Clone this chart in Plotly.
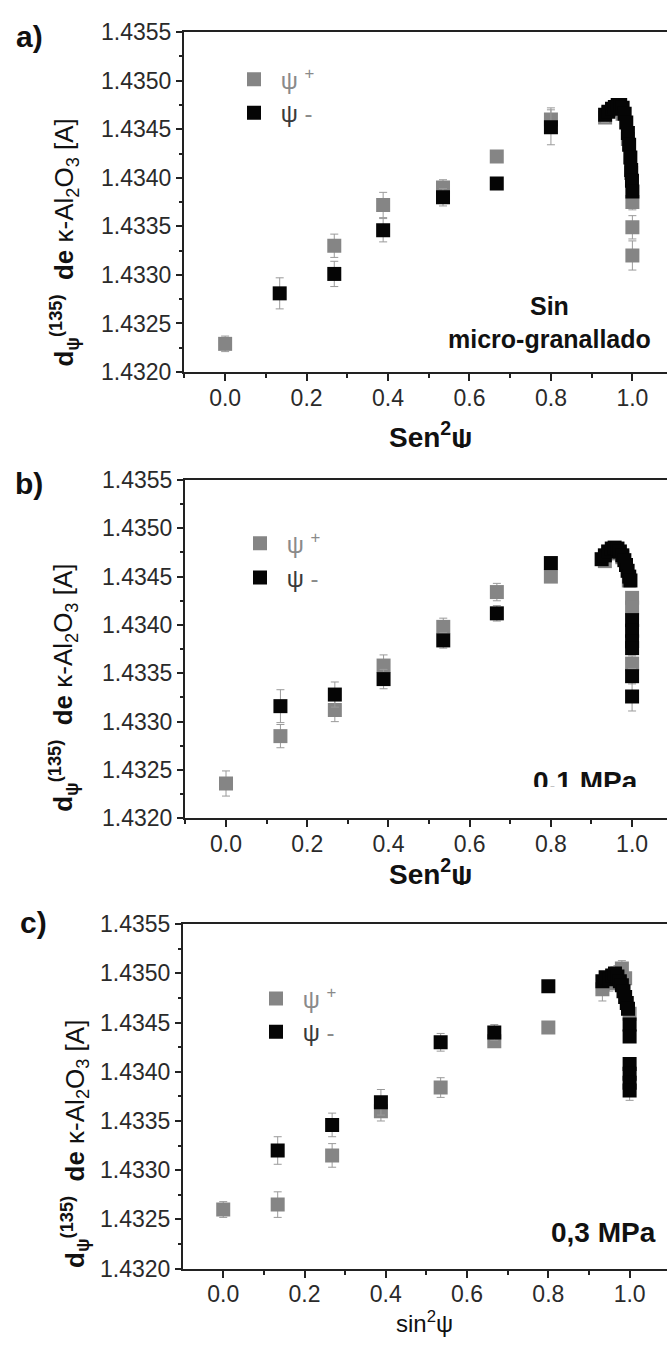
import plotly.graph_objects as go

# ---------------------------------------------------------------- data
# sin^2(psi) positions of the tilt series
sin2psi_main = [0.0, 0.134, 0.268, 0.388, 0.535, 0.667, 0.8]

# --- a) Sin micro-granallado
a_plus_x = [0.0, 0.268, 0.388, 0.535, 0.667, 0.8, 0.933, 0.957, 0.976, 0.989, 0.997, 1.0, 1.0, 1.0]
a_plus_y = [1.43229, 1.43330, 1.43372, 1.43390, 1.43422, 1.43460, 1.43462, 1.43470, 1.43466,
            1.43440, 1.43405, 1.43375, 1.43349, 1.43320]
a_plus_err = [0.00008, 0.00012, 0.00013, 0.00008, 0.00006, 0.00012, 0.00006, 0.00005, 0.00005,
              0.00005, 0.00005, 0.00008, 0.00012, 0.00015]

a_minus_x = [0.134, 0.268, 0.388, 0.535, 0.667, 0.8,
             0.933, 0.941, 0.950, 0.957, 0.964, 0.970, 0.976, 0.981, 0.985, 0.989, 0.992,
             0.995, 0.997, 0.999, 1.0]
a_minus_y = [1.43281, 1.43301, 1.43346, 1.43380, 1.43394, 1.43452,
             1.43465, 1.43468, 1.43471, 1.43473, 1.43475, 1.43475, 1.43472, 1.43466, 1.43457,
             1.43446, 1.43434, 1.43421, 1.43408, 1.43397, 1.43386]
a_minus_err = [0.00016, 0.00013, 0.00012, 0.00009, 0.00006, 0.00018,
               0.00008, 0.00005, 0.00005, 0.00005, 0.00005, 0.00005, 0.00005, 0.00005, 0.00005,
               0.00005, 0.00005, 0.00005, 0.00005, 0.00005, 0.00006]

# --- b) 0,1 MPa
b_plus_x = [0.0, 0.134, 0.268, 0.388, 0.535, 0.667, 0.8, 0.933, 0.957, 0.976, 0.992, 1.0, 1.0, 1.0]
b_plus_y = [1.43236, 1.43285, 1.43312, 1.43358, 1.43398, 1.43434, 1.43450, 1.43466, 1.43474,
            1.43470, 1.43446, 1.43428, 1.43418, 1.43360]
b_plus_err = [0.00013, 0.00012, 0.00012, 0.00011, 0.00009, 0.00009, 0.00006, 0.00006, 0.00005,
              0.00005, 0.00005, 0.00006, 0.00006, 0.00008]

b_minus_x = [0.134, 0.268, 0.388, 0.535, 0.667, 0.8,
             0.925, 0.933, 0.941, 0.950, 0.957, 0.964, 0.970, 0.976, 0.981, 0.985, 0.989, 0.993,
             0.996, 1.0, 1.0, 1.0, 1.0, 1.0, 1.0]
b_minus_y = [1.43316, 1.43328, 1.43344, 1.43384, 1.43412, 1.43464,
             1.43468, 1.43472, 1.43476, 1.43479, 1.43480, 1.43479, 1.43476, 1.43472, 1.43467,
             1.43462, 1.43456, 1.43450, 1.43446, 1.43405, 1.43394, 1.43383, 1.43376, 1.43347,
             1.43326]
b_minus_err = [0.00017, 0.00013, 0.00010, 0.00008, 0.00008, 0.00006,
               0.00005, 0.00005, 0.00005, 0.00005, 0.00005, 0.00005, 0.00005, 0.00005, 0.00005,
               0.00005, 0.00005, 0.00005, 0.00005, 0.00006, 0.00006, 0.00006, 0.00006, 0.00008,
               0.00015]

# --- c) 0,3 MPa
c_plus_x = [0.0, 0.134, 0.268, 0.388, 0.535, 0.667, 0.8, 0.933, 0.950, 0.970, 0.981, 0.989, 1.0]
c_plus_y = [1.43260, 1.43265, 1.43315, 1.43360, 1.43384, 1.43431, 1.43445, 1.43484, 1.43490,
            1.43500, 1.43505, 1.43495, 1.43459]
c_plus_err = [0.00008, 0.00013, 0.00012, 0.00010, 0.00010, 0.00006, 0.00005, 0.00012, 0.00008,
              0.00008, 0.00008, 0.00006, 0.00006]

c_minus_x = [0.134, 0.268, 0.388, 0.535, 0.667, 0.8,
             0.933, 0.941, 0.950, 0.957, 0.964, 0.970, 0.976, 0.981, 0.985, 0.989, 0.993, 0.996,
             1.0, 1.0, 1.0, 1.0, 1.0, 1.0]
c_minus_y = [1.43320, 1.43346, 1.43369, 1.43430, 1.43440, 1.43487,
             1.43492, 1.43496, 1.43494, 1.43498, 1.43500, 1.43497, 1.43492, 1.43488, 1.43482,
             1.43476, 1.43470, 1.43464, 1.43448, 1.43436, 1.43408, 1.43398, 1.43389, 1.43381]
c_minus_err = [0.00014, 0.00012, 0.00013, 0.00009, 0.00008, 0.00004,
               0.00006, 0.00005, 0.00005, 0.00005, 0.00005, 0.00005, 0.00005, 0.00005, 0.00005,
               0.00005, 0.00005, 0.00005, 0.00005, 0.00005, 0.00006, 0.00006, 0.00006, 0.00010]

y_ticks = [1.4320, 1.4325, 1.4330, 1.4335, 1.4340, 1.4345, 1.4350, 1.4355]
y_ticktext = ["1.4320", "1.4325", "1.4330", "1.4335", "1.4340", "1.4345", "1.4350", "1.4355"]
x_ticks = [0.0, 0.2, 0.4, 0.6, 0.8, 1.0]
x_ticktext = ["0.0", "0.2", "0.4", "0.6", "0.8", "1.0"]

# ---------------------------------------------------------------- layout helpers
W, H = 667, 1361
FONT = "Liberation Sans, Arial, sans-serif"
GRAY = "#858585"
BLACK = "#050505"
ERR = "#9a9a9a"


def px(x):
    return x / W


def py(y):
    return 1 - y / H


panels = [
    dict(name="a", plus=(a_plus_x, a_plus_y, a_plus_err), minus=(a_minus_x, a_minus_y, a_minus_err),
         left=184, top=19.5, bottom=366, xr=[-0.101, 1.085]),
    dict(name="b", plus=(b_plus_x, b_plus_y, b_plus_err), minus=(b_minus_x, b_minus_y, b_minus_err),
         left=185, top=476, bottom=821, xr=[-0.101, 1.086]),
    dict(name="c", plus=(c_plus_x, c_plus_y, c_plus_err), minus=(c_minus_x, c_minus_y, c_minus_err),
         left=183, top=929, bottom=1280, xr=[-0.099, 1.092]),
]

fig = go.Figure()
layout = dict(
    width=W, height=H, margin=dict(l=0, r=0, t=0, b=0),
    paper_bgcolor="white", plot_bgcolor="white",
    font=dict(family=FONT, color="#222"),
    annotations=[],
)

legend_pos = [  # symbol centre (px) of each legend entry per panel
    ((254, 68), (254, 102)),
    ((260, 541), (260, 576)),
    ((276, 1005), (276, 1039)),
]

for i, p in enumerate(panels):
    k = "" if i == 0 else str(i + 1)
    xa, ya = "x" + k, "y" + k
    lg_plus = "legend" if i == 0 else f"legend{2 * i + 1}"
    lg_minus = f"legend{2 * i + 2}"

    for (xs, ys, es), color, lg, label in [
        (p["plus"], GRAY, lg_plus, " ψ <sup>+</sup>"),
        (p["minus"], BLACK, lg_minus, ' ψ <span style="color:#8a8a8a">-</span>'),
    ]:
        fig.add_trace(go.Scatter(
            x=xs, y=ys, mode="markers", xaxis=xa, yaxis=ya, name=label,
            legend=lg, showlegend=True,
            marker=dict(symbol="square", size=14, color=color, line=dict(width=0)),
            error_y=dict(type="data", array=es, visible=True, color=ERR, thickness=1, width=4),
        ))

    dom_x = [px(p["left"]), 1.0]
    dom_y = [py(p["bottom"]), py(p["top"])]
    layout["xaxis" + k] = dict(
        domain=dom_x, range=p["xr"], anchor=ya, showgrid=False, zeroline=False,
        showline=True, linecolor="#222", linewidth=2, mirror=True,
        ticks="outside", ticklen=7, tickwidth=1.5, tickcolor="#222",
        tickvals=x_ticks, ticktext=x_ticktext, ticklabelstandoff=-3,
        tickfont=dict(size=23, color="#2a2a2a", family=FONT),
        minor=dict(dtick=0.1, tick0=0, ticks="outside", ticklen=4, tickwidth=1.5, tickcolor="#222"),
    )
    layout["yaxis" + k] = dict(
        domain=dom_y, range=[1.4320, 1.4355], anchor=xa, showgrid=False, zeroline=False,
        showline=True, linecolor="#222", linewidth=2, mirror=False,
        ticks="outside", ticklen=6, tickwidth=1.5, tickcolor="#222",
        tickvals=y_ticks, ticktext=y_ticktext,
        tickfont=dict(size=23, color="#2a2a2a", family=FONT),
        minor=dict(dtick=0.00025, tick0=1.4320, ticks="outside", ticklen=3, tickwidth=1.5,
                   tickcolor="#222"),
    )

    (gx, gy), (bx, by) = legend_pos[i]
    for lg, (sx, sy), fcol in [(lg_plus, (gx, gy), "#8a8a8a"), (lg_minus, (bx, by), "#3a3a3a")]:
        layout[lg] = dict(
            x=px(sx - 20), y=py(sy), xanchor="left", yanchor="middle",
            bgcolor="rgba(0,0,0,0)", borderwidth=0,
            font=dict(size=24, color=fcol, family=FONT),
            itemsizing="trace", tracegroupgap=0,
        )

ann = layout["annotations"]

# panel letters
for txt, (x, y) in [("a)", (29, 24)), ("b)", (29, 480)), ("c)", (33, 927))]:
    ann.append(dict(text=f"<b>{txt}</b>", x=px(x), y=py(y), xref="paper", yref="paper",
                    xanchor="center", yanchor="middle", showarrow=False,
                    font=dict(size=30, color="#111", family=FONT)))

# rotated y titles
ytitle = ("<b>d</b><sub><b>ψ</b></sub><sup><b>(135)</b></sup>  <b>de</b> "
          "κ-Al<sub>2</sub>O<sub>3</sub> [A]")
for (x, y) in [(64, 234), (63, 688), (75, 1153)]:
    ann.append(dict(text=ytitle, textangle=-90, x=px(x), y=py(y), xref="paper", yref="paper",
                    xanchor="center", yanchor="middle", showarrow=False,
                    font=dict(size=26, color="#111", family=FONT)))

# x titles
for txt, (x, y), size in [("<b>Sen<sup>2</sup>ψ</b>", (430, 430), 28),
                          ("<b>Sen<sup>2</sup>ψ</b>", (430, 876), 28),
                          ("sin<sup>2</sup>ψ", (425, 1334), 24)]:
    ann.append(dict(text=txt, x=px(x), y=py(y), xref="paper", yref="paper",
                    xanchor="center", yanchor="middle", showarrow=False,
                    font=dict(size=size, color="#111", family=FONT)))

# in-panel condition labels
ann.append(dict(text="<b>Sin<br>micro-granallado</b>", x=px(549), y=py(316), xref="paper",
                yref="paper", xanchor="center", yanchor="middle", showarrow=False, align="center",
                font=dict(size=25, color="#111", family=FONT)))
ann.append(dict(text="<b>0,1 MPa</b>", x=px(640), y=py(783), xref="paper", yref="paper",
                xanchor="right", yanchor="middle", showarrow=False,
                font=dict(size=28, color="#111", family=FONT)))
ann.append(dict(text="<b>0,3 MPa</b>", x=px(658), y=py(1243), xref="paper", yref="paper",
                xanchor="right", yanchor="middle", showarrow=False,
                font=dict(size=28, color="#111", family=FONT)))

# white strips where the stacked panels were trimmed
for (x0, y0, w, h) in [(370, 443, 140, 10), (370, 889, 140, 18), (515, 789, 140, 14)]:
    ann.append(dict(text=" ", x=px(x0), y=py(y0), xref="paper", yref="paper",
                    xanchor="left", yanchor="top", showarrow=False, width=w, height=h,
                    bgcolor="white", borderpad=0, borderwidth=0))

fig.update_layout(**layout)
fig.write_html("out.html")
